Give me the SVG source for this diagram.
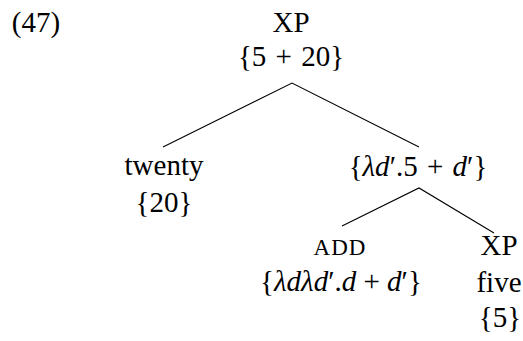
<svg xmlns="http://www.w3.org/2000/svg" width="523" height="341" viewBox="0 0 523 341" font-family="'Liberation Serif', 'DejaVu Serif', serif">
<style>
text{font-family:"Liberation Serif","DejaVu Serif",serif;font-size:29px;fill:#000;text-anchor:middle}
.i{font-style:italic}
.sc{font-size:23px;letter-spacing:1px}
.e{stroke:#000;stroke-width:1.1;fill:none}
</style>
<rect width="523" height="341" fill="#fff"/>
<text x="36" y="32">(47)</text>
<g id="root">
<text x="291" y="32">XP</text>
<text x="291" y="66">{5 <tspan dx="2">+</tspan> <tspan dx="2">20}</tspan></text>
</g>
<g id="twenty">
<text x="164" y="175">twenty</text>
<text x="164" y="212">{20}</text>
</g>
<g id="mid">
<text x="418" y="176">{<tspan class="i">λd</tspan>′.5 <tspan dx="2">+</tspan> <tspan class="i" dx="2">d</tspan>′}</text>
</g>
<g id="add">
<text x="341" y="291">{<tspan class="i">λdλd</tspan>′.<tspan class="i">d</tspan> + <tspan class="i">d</tspan>′}</text>
<text x="340" y="255" class="sc">ADD</text>
</g>
<g id="five">
<text x="499" y="255">XP</text>
<text x="499" y="292">five</text>
<text x="500" y="327">{5}</text>
</g>
<g id="edges">
<path class="e" d="M163 147 L292 83 L419 147"/>
<path class="e" d="M342 226 L419 188 L494 233"/>
</g>
</svg>
